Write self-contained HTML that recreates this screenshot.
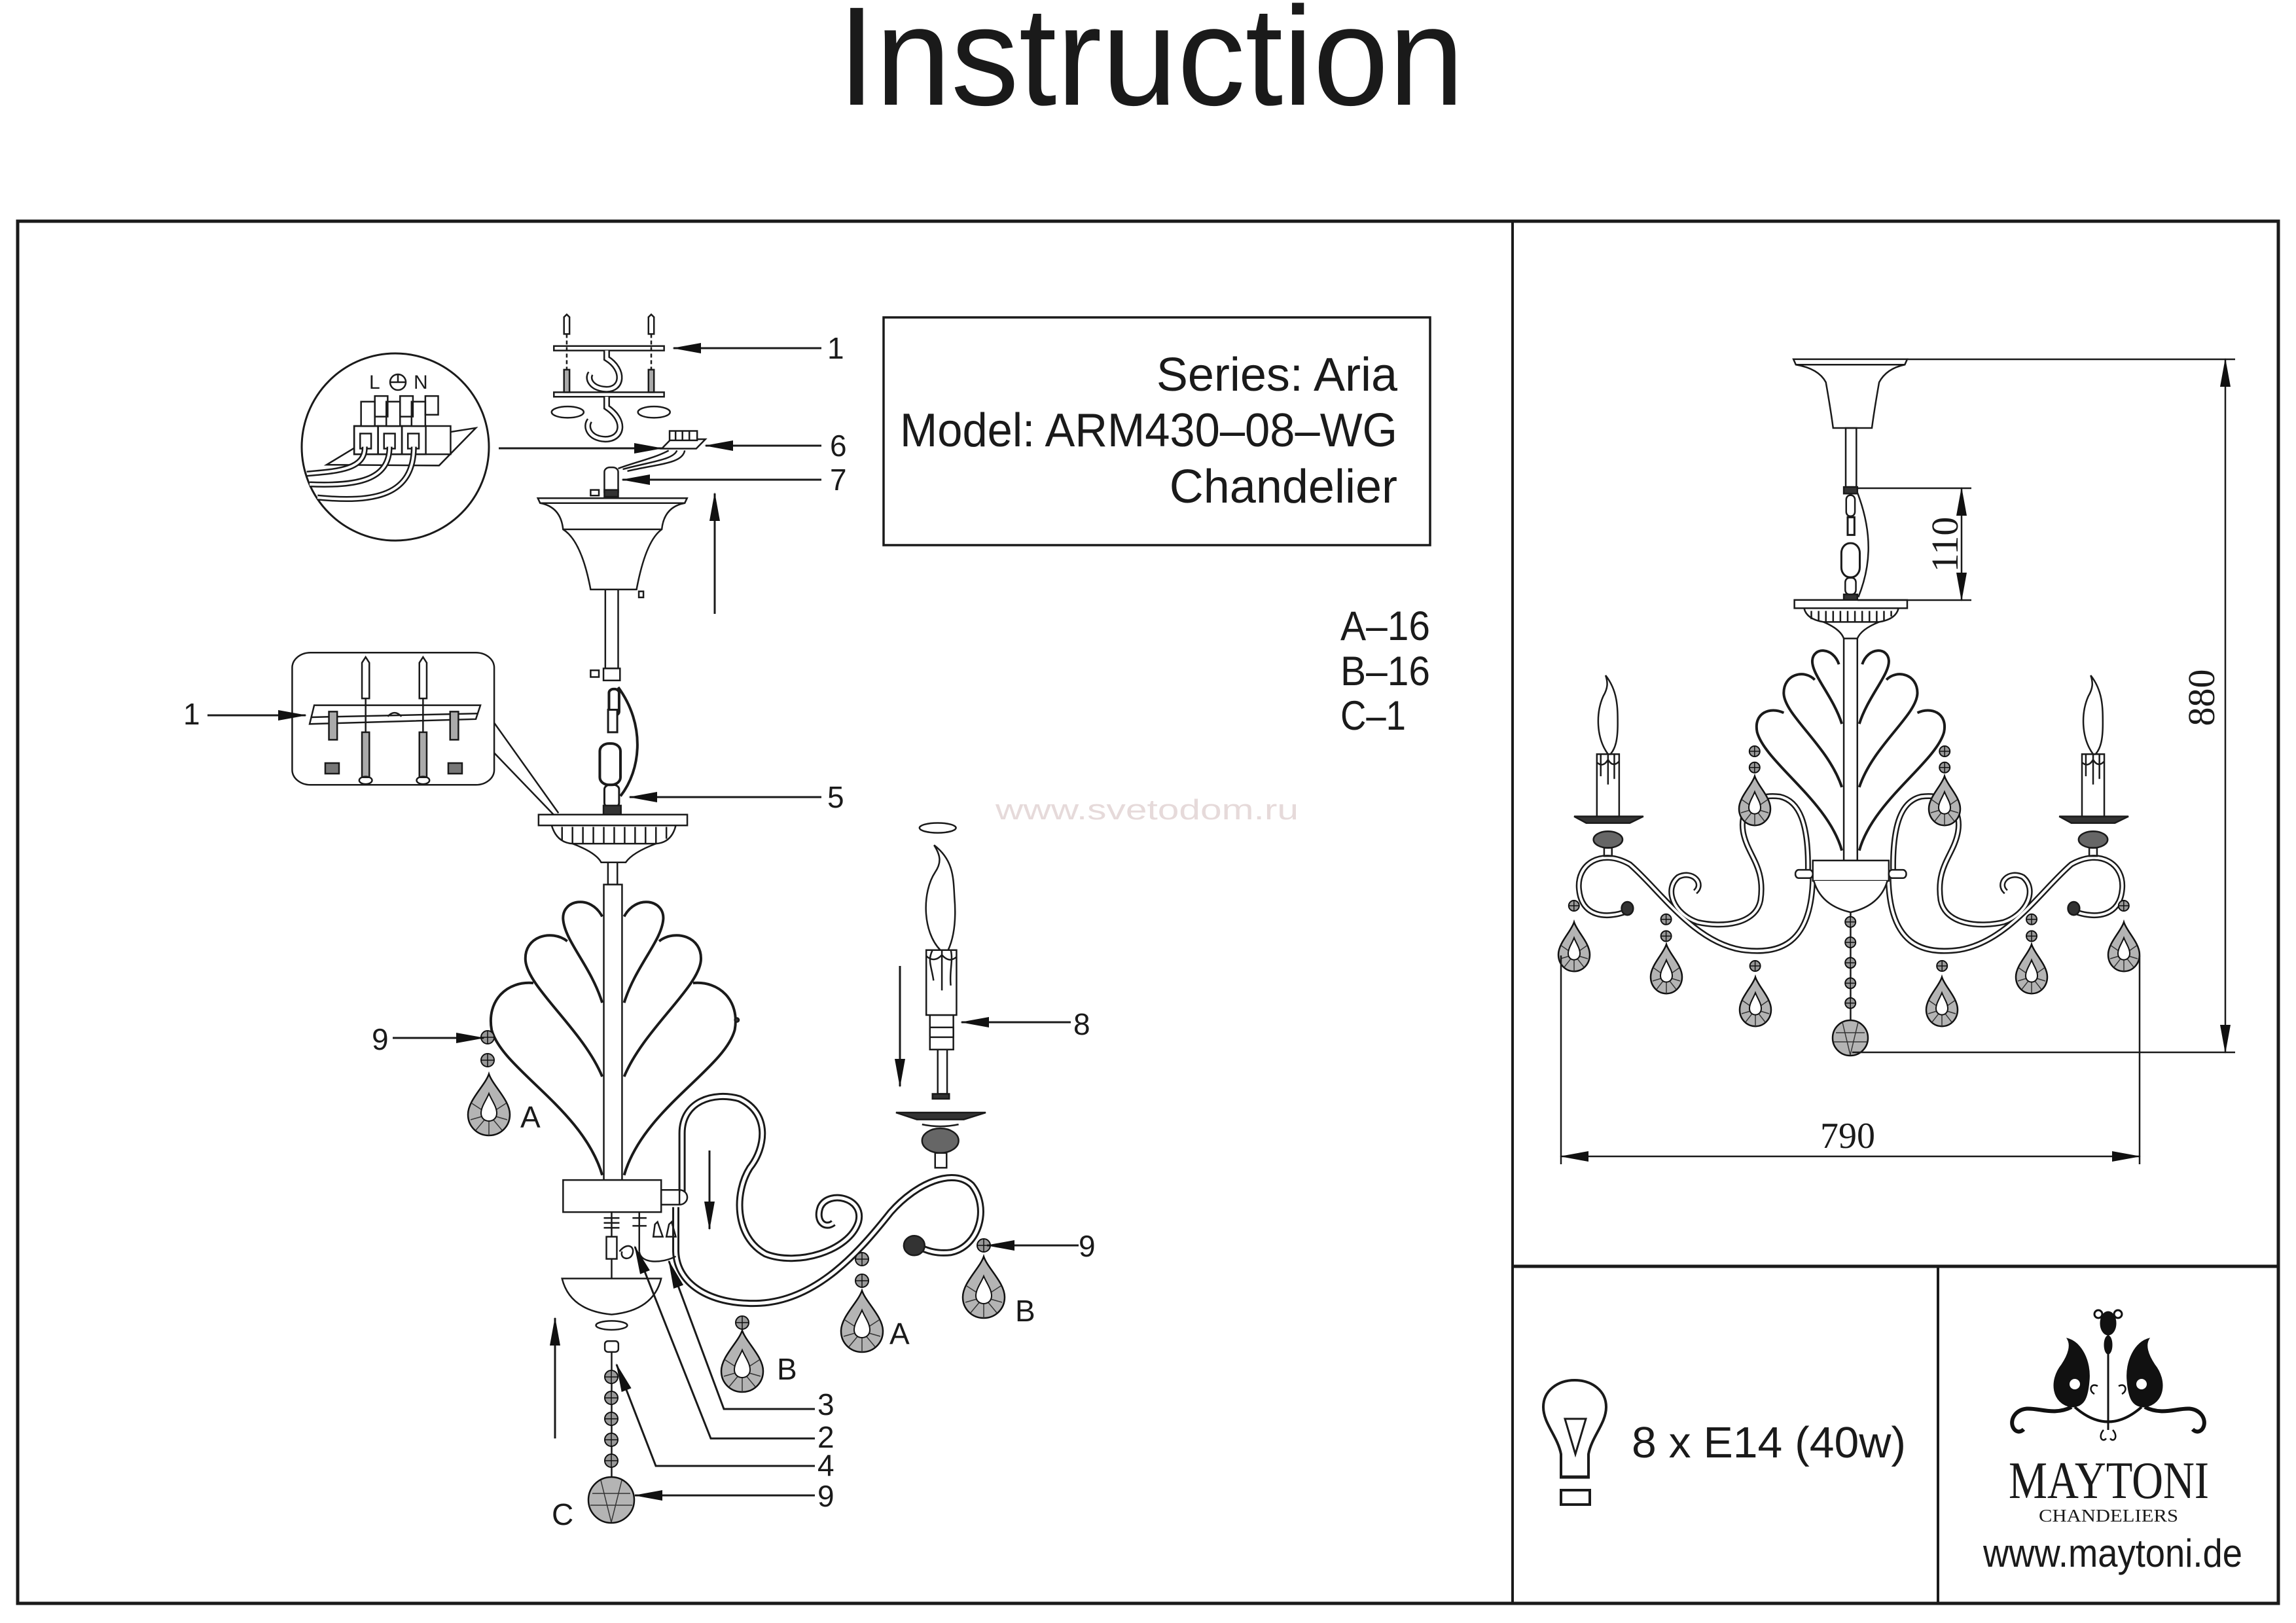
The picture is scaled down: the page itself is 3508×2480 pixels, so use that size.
<!DOCTYPE html>
<html><head><meta charset="utf-8"><style>
html,body{margin:0;padding:0;background:#fff}
svg{display:block}
svg path,svg rect,svg line,svg polyline,svg polygon,svg ellipse,svg circle{vector-effect:non-scaling-stroke}
text{font-family:"Liberation Sans",sans-serif;fill:#1a1a1a}
.serif{font-family:"Liberation Serif",serif}
</style></head><body>
<svg width="3508" height="2480" viewBox="0 0 3508 2480" xmlns="http://www.w3.org/2000/svg">
<defs>
<marker id="ah" markerUnits="userSpaceOnUse" markerWidth="44" markerHeight="20" refX="42" refY="10" orient="auto-start-reverse"><path d="M0,2 L44,10 L0,18 Z" fill="#111"/></marker>
<g id="drop">
<path d="M0,0 C6,18 32,40 32,62 C32,80 18,94 0,94 C-18,94 -32,80 -32,62 C-32,40 -6,18 0,0 Z" fill="#b4b4b4" stroke="#111" stroke-width="2.5"/>
<path d="M0,62 L-28,70 M0,62 L-20,86 M0,62 L0,94 M0,62 L20,86 M0,62 L28,70 M0,62 L-26,45 M0,62 L26,45" stroke="#333" stroke-width="1.5"/>
<path d="M0,30 C4,40 12,50 12,60 C12,68 6,72 0,72 C-6,72 -12,68 -12,60 C-12,50 -4,40 0,30 Z" fill="#fff" stroke="#111" stroke-width="2"/>
</g>
<g id="bead"><circle r="10" fill="#999" stroke="#111" stroke-width="2"/><path d="M-10,0H10M0,-10V10" stroke="#111" stroke-width="1.5"/></g>
</defs>
<rect width="3508" height="2480" fill="#fff"/>

<text x="1280" y="160" font-size="215" textLength="957" lengthAdjust="spacingAndGlyphs">Instruction</text>

<g fill="none" stroke="#1a1a1a">
<rect x="27" y="338" width="3454" height="2112" stroke-width="5"/>
<line x1="2311" y1="338" x2="2311" y2="2450" stroke-width="4"/>
<line x1="2311" y1="1935" x2="3481" y2="1935" stroke-width="5"/>
<line x1="2961" y1="1935" x2="2961" y2="2450" stroke-width="4"/>
<rect x="1350" y="485" width="835" height="348" stroke-width="3.5"/>
</g>
<text x="2135" y="597" font-size="72" text-anchor="end">Series: Aria</text>
<text x="1375" y="682" font-size="72" textLength="760" lengthAdjust="spacingAndGlyphs">Model: ARM430–08–WG</text>
<text x="2135" y="768" font-size="72" text-anchor="end">Chandelier</text>

<text x="2048" y="978" font-size="63" textLength="137" lengthAdjust="spacingAndGlyphs">A–16</text>
<text x="2048" y="1047" font-size="63" textLength="137" lengthAdjust="spacingAndGlyphs">B–16</text>
<text x="2048" y="1115" font-size="63" textLength="100" lengthAdjust="spacingAndGlyphs">C–1</text>

<text x="1521" y="1252" font-size="44" style="fill:#e6dada" textLength="463" lengthAdjust="spacingAndGlyphs">www.svetodom.ru</text>

<g fill="none" stroke="#1a1a1a" stroke-width="4">
<path d="M2385,2257 L2385,2222 C2380,2195 2358,2175 2358,2150 C2358,2125 2380,2109 2406,2109 C2432,2109 2454,2125 2454,2150 C2454,2175 2432,2195 2427,2222 L2427,2257 Z"/>
<line x1="2383" y1="2257" x2="2429" y2="2257" stroke-width="5"/>
<polygon points="2391,2168 2423,2168 2407,2222" stroke-width="3"/>
<rect x="2385" y="2277" width="44" height="22"/>
</g>
<text x="2493" y="2227" font-size="67" textLength="419" lengthAdjust="spacingAndGlyphs">8 x E14 (40w)</text>

<g fill="#111" stroke="#111">
<line x1="3221" y1="2040" x2="3221" y2="2185" stroke-width="3"/>
<ellipse cx="3221" cy="2022" rx="12" ry="18"/>
<ellipse cx="3221" cy="2055" rx="6" ry="14"/>
<circle cx="3206" cy="2008" r="6" fill="none" stroke-width="3"/>
<circle cx="3236" cy="2008" r="6" fill="none" stroke-width="3"/>
<path d="M3165,2150 C3135,2145 3130,2110 3150,2085 C3160,2070 3165,2055 3158,2045 C3180,2050 3195,2080 3192,2110 C3190,2135 3185,2150 3165,2150 Z"/>
<path d="M3277,2150 C3307,2145 3312,2110 3292,2085 C3282,2070 3277,2055 3284,2045 C3262,2050 3247,2080 3250,2110 C3252,2135 3257,2150 3277,2150 Z"/>
<circle cx="3170" cy="2115" r="8" fill="#fff" stroke="none"/>
<circle cx="3272" cy="2115" r="8" fill="#fff" stroke="none"/>
<path d="M3165,2150 C3130,2168 3100,2140 3080,2160 C3066,2175 3080,2196 3092,2184" fill="none" stroke-width="6"/>
<path d="M3277,2150 C3312,2168 3342,2140 3362,2160 C3376,2175 3362,2196 3350,2184" fill="none" stroke-width="6"/>
<path d="M3170,2150 Q3221,2195 3272,2150" fill="none" stroke-width="4"/>
<path d="M3214,2185 C3205,2195 3212,2205 3218,2198 M3228,2185 C3237,2195 3230,2205 3224,2198" fill="none" stroke-width="2.5"/>
<path d="M3200,2130 C3190,2125 3195,2112 3205,2118 M3242,2130 C3252,2125 3247,2112 3237,2118" fill="none" stroke-width="2.5"/>
</g>
<text class="serif" x="3069" y="2289" font-size="80" textLength="306" lengthAdjust="spacingAndGlyphs">MAYTONI</text>
<text class="serif" x="3115" y="2325" font-size="27" textLength="213" lengthAdjust="spacingAndGlyphs">CHANDELIERS</text>
<text x="3030" y="2394" font-size="60" textLength="396" lengthAdjust="spacingAndGlyphs">www.maytoni.de</text>

<!-- RIGHT DRAWING -->
<g transform="translate(2320,500) scale(0.7397,0.8418)" fill="none" stroke="#1a1a1a" stroke-width="2.5">
<path d="M568,58 L803,58 L798,68 Q760,75 745,100 Q735,150 730,183 L650,183 Q645,150 635,100 Q620,75 573,68 Z"/>
<line x1="573" y1="68" x2="798" y2="68"/>
<rect x="676" y="183" width="22" height="107"/>
<rect x="672" y="290" width="28" height="12" fill="#333"/>
<rect x="677" y="305" width="18" height="38" rx="8"/>
<rect x="680" y="345" width="14" height="32" stroke-width="3"/>
<rect x="667" y="392" width="38" height="62" rx="18" stroke-width="3"/>
<rect x="675" y="455" width="22" height="30" rx="8"/>
<rect x="672" y="485" width="28" height="10" fill="#333"/>
<path d="M700,300 C735,380 725,440 702,490"/>
<rect x="570" y="495" width="233" height="15"/>
<path d="M590,510 Q595,530 630,535 L745,535 Q780,530 785,510"/>
<path d="M605,515 V530 M620,515 V534 M635,515 V535 M650,515 V535 M665,515 V535 M680,515 V535 M695,515 V535 M710,515 V535 M725,515 V535 M740,515 V535 M755,515 V532 M770,515 V525"/>
<path d="M630,535 Q665,548 672,565 M745,535 Q708,548 700,565"/>
<rect x="672" y="565" width="28" height="403"/>
<g stroke-width="4">
<path d="M668,720 C650,670 605,630 607,605 C609,580 650,580 662,612"/>
<path d="M668,835 C640,760 550,705 548,665 C547,630 590,620 612,640"/>
<path d="M668,950 C640,860 510,790 493,735 C485,700 520,688 548,700"/>
<path d="M704,720 C722,670 767,630 765,605 C763,580 722,580 710,612"/>
<path d="M704,835 C732,760 822,705 824,665 C825,630 782,620 760,640"/>
<path d="M704,950 C732,860 862,790 879,735 C887,700 852,688 824,700"/>
</g>
<g stroke-width="9"><path id="ra1" d="M608,1000 C605,1120 540,1140 460,1130 C360,1115 290,1020 230,975 C170,945 120,975 125,1020 C130,1070 180,1075 225,1060"/>
<path id="ra2" d="M598,990 C600,900 580,860 540,852 C480,845 455,880 465,920 C475,960 510,980 500,1040 C490,1085 420,1090 370,1080 C320,1065 300,1020 330,998 C360,985 385,1010 365,1025"/>
<path id="ra3" d="M764,1000 C767,1120 832,1140 912,1130 C1012,1115 1082,1020 1142,975 C1202,945 1252,975 1247,1020 C1242,1070 1192,1075 1147,1060"/>
<path id="ra4" d="M774,990 C772,900 792,860 832,852 C892,845 917,880 907,920 C897,960 862,980 872,1040 C882,1085 952,1090 1002,1080 C1052,1065 1072,1020 1042,998 C1012,985 987,1010 1007,1025"/></g>
<g stroke="#fff" stroke-width="4"><use href="#ra1"/><use href="#ra2"/><use href="#ra3"/><use href="#ra4"/></g>
<rect x="608" y="968" width="157" height="37" fill="#fff"/>
<rect x="572" y="985" width="36" height="15" rx="7" fill="#fff"/>
<rect x="765" y="985" width="36" height="15" rx="7" fill="#fff"/>
<path d="M610,1005 Q625,1050 686,1062 Q747,1050 762,1005" fill="#fff"/>
<g id="candleR">
<polygon points="115,888 258,888 230,900 140,900" fill="#333"/>
<ellipse cx="185" cy="930" rx="30" ry="15" fill="#666"/>
<rect x="177" y="945" width="16" height="15"/>
<rect x="162" y="775" width="46" height="113" fill="#fff"/>
<path d="M170,775 V815 M185,775 V830 M198,775 V820 M162,790 Q175,800 185,785 Q195,800 208,788"/>
<path d="M185,775 C160,745 160,700 175,670 C185,655 185,645 180,632 C205,660 205,690 205,720 C205,750 200,765 190,775 Z" fill="#fff"/>
</g>
<use href="#candleR" x="1002"/>
<circle cx="225" cy="1055" r="12" fill="#333"/>
<circle cx="1147" cy="1055" r="12" fill="#333"/>
<line x1="686" y1="1062" x2="686" y2="1260"/>
</g>
<g>
<g transform="translate(2405,1409) scale(0.75,0.8)"><use href="#drop"/></g>
<g transform="translate(2546,1443) scale(0.75,0.8)"><use href="#drop"/></g>
<g transform="translate(2682,1493) scale(0.75,0.8)"><use href="#drop"/></g>
<g transform="translate(2967,1493) scale(0.75,0.8)"><use href="#drop"/></g>
<g transform="translate(3104,1443) scale(0.75,0.8)"><use href="#drop"/></g>
<g transform="translate(3245,1409) scale(0.75,0.8)"><use href="#drop"/></g>
<g transform="translate(2681,1186) scale(0.75,0.8)"><use href="#drop"/></g>
<g transform="translate(2971,1186) scale(0.75,0.8)"><use href="#drop"/></g>
<g transform="scale(0.8)">
<use href="#bead" x="3006" y="1730"/><use href="#bead" x="3182" y="1756"/><use href="#bead" x="3182" y="1788"/>
<use href="#bead" x="3352" y="1845"/><use href="#bead" x="3709" y="1845"/>
<use href="#bead" x="3880" y="1756"/><use href="#bead" x="3880" y="1788"/><use href="#bead" x="4056" y="1730"/>
<use href="#bead" x="3351" y="1435"/><use href="#bead" x="3351" y="1466"/><use href="#bead" x="3714" y="1435"/><use href="#bead" x="3714" y="1466"/>
<use href="#bead" x="3534" y="1761"/><use href="#bead" x="3534" y="1800"/><use href="#bead" x="3534" y="1839"/><use href="#bead" x="3534" y="1878"/><use href="#bead" x="3534" y="1916"/>
</g>
<circle cx="2827" cy="1586" r="27" fill="#b4b4b4" stroke="#111" stroke-width="2.5"/>
<path d="M2805,1578 L2849,1578 M2802,1592 L2852,1592 M2815,1562 L2827,1612 M2839,1562 L2827,1612" stroke="#333" stroke-width="1.5"/>
</g>
<g stroke="#1a1a1a" stroke-width="2.5" fill="none">
<line x1="2914" y1="549" x2="3415" y2="549"/>
<line x1="2830" y1="1608" x2="3415" y2="1608"/>
<line x1="3400" y1="549" x2="3400" y2="1608" marker-start="url(#ah)" marker-end="url(#ah)"/>
<line x1="2838" y1="746" x2="3012" y2="746"/>
<line x1="2838" y1="917" x2="3012" y2="917"/>
<line x1="2997" y1="746" x2="2997" y2="917" marker-start="url(#ah)" marker-end="url(#ah)"/>
<line x1="2385" y1="1460" x2="2385" y2="1779"/>
<line x1="3269" y1="1460" x2="3269" y2="1779"/>
<line x1="2385" y1="1767" x2="3269" y2="1767" marker-start="url(#ah)" marker-end="url(#ah)"/>
</g>
<text class="serif" font-size="58" text-anchor="middle" transform="translate(2991,832) rotate(-90)">110</text>
<text class="serif" font-size="58" text-anchor="middle" transform="translate(3383,1066) rotate(-90)">880</text>
<text class="serif" x="2823" y="1754" font-size="56" text-anchor="middle">790</text>

<!-- LEFT UPPER -->
<circle cx="604" cy="683" r="143" fill="none" stroke="#1a1a1a" stroke-width="3"/>
<g transform="translate(250,430) scale(0.7015,0.5741)" fill="none" stroke="#1a1a1a" stroke-width="2.5">
<polygon points="355,488 420,440 680,390 600,490" fill="#fff"/>
<rect x="415" y="385" width="210" height="75" fill="#fff"/>
<rect x="415" y="385" width="52" height="75"/><rect x="467" y="385" width="52" height="75"/><rect x="519" y="385" width="52" height="75"/>
<rect x="428" y="405" width="24" height="40"/><rect x="480" y="405" width="24" height="40"/><rect x="532" y="405" width="24" height="40"/>
<rect x="430" y="320" width="30" height="65" fill="#fff"/><rect x="485" y="320" width="30" height="65" fill="#fff"/><rect x="540" y="320" width="30" height="65" fill="#fff"/>
<rect x="460" y="305" width="28" height="55"/><rect x="515" y="305" width="28" height="55"/><rect x="570" y="305" width="28" height="50"/>
<g stroke-width="9"><path id="w1" d="M438,440 C440,500 380,505 312,512"/><path id="w2" d="M492,440 C492,530 420,545 318,540"/><path id="w3" d="M545,440 C545,570 460,590 335,575"/></g>
<g stroke="#fff" stroke-width="4"><use href="#w1"/><use href="#w2"/><use href="#w3"/></g>
<rect x="850" y="172" width="240" height="12" fill="#fff"/>
<rect x="850" y="295" width="240" height="12" fill="#fff"/>
<path d="M872,95 L878,88 L884,95 L884,140 L872,140 Z M1056,95 L1062,88 L1068,95 L1068,140 L1056,140 Z"/>
<path d="M878,140 V295 M1062,140 V295" stroke-dasharray="6,4"/>
<rect x="872" y="235" width="12" height="60" fill="#aaa"/><rect x="1056" y="235" width="12" height="60" fill="#aaa"/>
<ellipse cx="880" cy="348" rx="35" ry="15"/><ellipse cx="1068" cy="348" rx="35" ry="15"/>
<g stroke-width="10"><path id="hk1" d="M965,184 L965,205 C1005,235 1000,290 962,287 C930,284 922,258 930,245"/><path id="hk2" d="M965,307 L965,335 C1008,370 1000,420 962,420 C925,418 918,385 928,370"/></g>
<g stroke="#fff" stroke-width="5"><use href="#hk1"/><use href="#hk2"/></g>
<polygon points="1085,445 1105,420 1180,420 1160,445" fill="#fff"/>
<rect x="1102" y="398" width="60" height="25" fill="#fff"/>
<path d="M1115,398 V423 M1130,398 V423 M1145,398 V423"/>
<path d="M1100,450 C1070,470 1030,480 990,498 M1118,450 C1110,475 1060,480 1000,500 M1135,450 C1130,485 1080,485 1010,505"/>
<rect x="960" y="495" width="30" height="78" rx="12" fill="#fff"/>
<rect x="960" y="555" width="30" height="18" fill="#333"/>
<rect x="930" y="555" width="18" height="15"/>
<path d="M815,577 L1140,577 L1135,590 Q1090,600 1085,660 Q1050,690 1030,820 L930,820 Q910,690 870,660 Q865,600 820,590 Z" fill="#fff"/>
<line x1="820" y1="590" x2="1135" y2="590"/>
<line x1="870" y1="660" x2="1085" y2="660"/>
<rect x="962" y="820" width="28" height="210"/>
<rect x="1035" y="825" width="10" height="16"/>
<rect x="958" y="1030" width="36" height="32" fill="#fff"/>
<rect x="930" y="1035" width="18" height="18"/>
<rect x="970" y="1085" width="22" height="70" rx="10" stroke-width="4"/>
<rect x="968" y="1140" width="20" height="60" fill="#fff" stroke-width="3"/>
<rect x="950" y="1230" width="45" height="110" rx="20" stroke-width="4"/>
<rect x="960" y="1340" width="32" height="60" rx="12" stroke-width="3"/>
<rect x="958" y="1395" width="38" height="25" fill="#333"/>
<path d="M990,1080 C1050,1180 1040,1300 995,1370" stroke-width="4"/>
<rect x="280" y="988" width="440" height="352" rx="40" fill="#fff"/>
<polygon points="328,1128 690,1128 680,1165 318,1178" fill="#fff"/>
<line x1="320" y1="1160" x2="685" y2="1150"/>
<path d="M432,1015 L440,1000 L448,1015 L448,1110 L432,1110 Z M557,1015 L565,1000 L573,1015 L573,1110 L557,1110 Z"/>
<path d="M440,1110 V1200 M565,1110 V1200"/>
<rect x="432" y="1200" width="16" height="120" fill="#aaa"/><rect x="557" y="1200" width="16" height="120" fill="#aaa"/>
<ellipse cx="440" cy="1328" rx="14" ry="10"/><ellipse cx="565" cy="1328" rx="14" ry="10"/>
<rect x="360" y="1145" width="18" height="75" fill="#aaa"/><rect x="624" y="1145" width="18" height="75" fill="#aaa"/>
<rect x="352" y="1282" width="30" height="28" fill="#777"/><rect x="620" y="1282" width="30" height="28" fill="#777"/>
<path d="M488,1158 Q503,1138 518,1158"/>
<path d="M720,1175 L860,1415 M720,1255 L850,1420"/>
</g>
<text x="564" y="594" font-size="30">L</text>
<circle cx="608" cy="584" r="12" fill="none" stroke="#1a1a1a" stroke-width="2.5"/>
<path d="M596,584 H620 M608,572 V584" stroke="#1a1a1a" stroke-width="2.5"/>
<text x="632" y="594" font-size="30">N</text>

<!-- LEFT LOWER -->
<g transform="translate(500,1250) scale(0.7972,0.7526)" fill="none" stroke="#1a1a1a" stroke-width="2.5">
<rect x="405" y="-7" width="285" height="22" fill="#fff"/>
<path d="M430,15 Q440,50 470,52 L630,52 Q660,50 668,15"/>
<path d="M450,18 V45 M470,18 V52 M490,18 V52 M510,18 V52 M530,18 V52 M550,18 V52 M570,18 V52 M590,18 V52 M610,18 V52 M630,18 V52 M650,18 V42"/>
<path d="M470,52 Q515,70 525,90 L572,90 Q585,70 630,52"/>
<rect x="538" y="90" width="18" height="45"/>
<rect x="530" y="135" width="35" height="600" fill="#fff"/>
<g stroke-width="4">
<path d="M527,375 C505,300 455,250 452,205 C450,165 505,155 527,200"/>
<path d="M527,525 C490,430 385,345 380,290 C376,240 430,225 460,250"/>
<path d="M527,725 C490,590 335,510 315,430 C305,370 345,330 395,335"/>
<path d="M569,375 C591,300 641,250 644,205 C646,165 591,155 569,200"/>
<path d="M569,525 C606,430 711,345 716,290 C720,240 666,225 636,250"/>
<path d="M569,725 C606,590 761,510 781,430 C791,370 751,330 701,335"/>
</g>
<g stroke-width="11"><path id="la1" d="M668,790 L668,880 C670,950 740,990 830,985 C940,978 1020,880 1080,800 C1130,740 1200,710 1235,745 C1270,790 1250,870 1195,882 C1170,885 1150,880 1130,868"/>
<path id="la2" d="M680,760 L680,640 C680,575 740,555 790,570 C850,600 840,670 810,710 C780,760 780,850 840,885 C900,910 1000,880 1018,820 C1030,770 960,755 945,790 C935,820 955,835 970,822"/></g>
<g stroke="#fff" stroke-width="5"><use href="#la1"/><use href="#la2"/></g>
<rect x="452" y="735" width="188" height="65" fill="#fff"/>
<rect x="640" y="755" width="35" height="30" fill="#fff"/>
<path d="M675,755 A15,15 0 0 1 675,785"/>
<path d="M545,800 V935 M598,800 V880"/>
<path d="M530,812 H560 M530,822 H560 M530,832 H560 M585,812 H612 M585,828 H612"/>
<rect x="535" y="850" width="20" height="45" fill="#fff"/>
<path d="M560,880 C575,860 590,870 585,885 C580,900 560,895 565,880"/>
<path d="M628,825 L633,820 L643,850 L625,850 Z M655,825 L660,820 L668,850 L650,850 Z"/>
<path d="M598,880 C600,905 640,905 668,890"/>
<path d="M450,935 L640,935 Q625,1000 545,1008 Q465,1000 450,935 Z" fill="#fff"/>
<ellipse cx="545" cy="1030" rx="30" ry="9"/>
<ellipse cx="1170" cy="20" rx="35" ry="10"/>
<rect x="532" y="1062" width="26" height="22" rx="6"/>
<line x1="545" y1="1084" x2="545" y2="1345"/>
<polygon points="1090,598 1262,598 1220,612 1130,612" fill="#333"/>
<ellipse cx="1175" cy="655" rx="35" ry="25" fill="#666"/>
<path d="M1140,622 Q1175,630 1210,622" />
<rect x="1165" y="680" width="22" height="30"/>
<rect x="1170" y="470" width="18" height="90"/>
<rect x="1160" y="560" width="32" height="10" fill="#333"/>
<rect x="1155" y="400" width="45" height="70" fill="#fff"/>
<rect x="1155" y="425" width="45" height="20" fill="#fff"/>
<rect x="1148" y="268" width="58" height="132" fill="#fff"/>
<path d="M1160,268 C1150,290 1158,300 1162,330 M1178,268 V350 M1195,268 C1200,290 1192,310 1195,340 M1148,280 Q1163,295 1178,278 Q1192,295 1206,282"/>
<path d="M1175,268 C1140,230 1140,150 1165,110 C1178,90 1175,75 1163,55 C1200,85 1200,120 1202,160 C1206,210 1200,245 1190,268 Z" fill="#fff"/>
<circle cx="1125" cy="868" r="20" fill="#333"/>
<circle cx="785" cy="410" r="4" fill="#333"/>
</g>
<g>
<use href="#drop" x="747" y="1641"/>
<use href="#drop" x="1134" y="2033"/>
<use href="#drop" x="1317" y="1972"/>
<use href="#drop" x="1503" y="1920"/>
<use href="#bead" x="745" y="1585"/><use href="#bead" x="745" y="1620"/>
<use href="#bead" x="1134" y="2021"/>
<use href="#bead" x="1317" y="1924"/><use href="#bead" x="1317" y="1957"/>
<use href="#bead" x="1503" y="1903"/>
<use href="#bead" x="934" y="2104"/><use href="#bead" x="934" y="2136"/><use href="#bead" x="934" y="2168"/><use href="#bead" x="934" y="2200"/><use href="#bead" x="934" y="2232"/>
<circle cx="934" cy="2292" r="35" fill="#b4b4b4" stroke="#111" stroke-width="2.5"/>
<path d="M905,2282 L963,2282 M902,2300 L966,2300 M918,2262 L934,2326 M950,2262 L934,2326" stroke="#333" stroke-width="1.5"/>
</g>

<g stroke="#1a1a1a" stroke-width="3" fill="none">
<line x1="1255" y1="532" x2="1029" y2="532" marker-end="url(#ah)"/>
<line x1="1255" y1="681" x2="1078" y2="681" marker-end="url(#ah)"/>
<line x1="762" y1="685" x2="1011" y2="685" marker-end="url(#ah)"/>
<line x1="1255" y1="733" x2="951" y2="733" marker-end="url(#ah)"/>
<line x1="1092" y1="938" x2="1092" y2="754" marker-end="url(#ah)"/>
<line x1="1255" y1="1218" x2="962" y2="1218" marker-end="url(#ah)"/>
<line x1="317" y1="1093" x2="467" y2="1093" marker-end="url(#ah)"/>
<line x1="600" y1="1586" x2="739" y2="1586" marker-end="url(#ah)"/>
<line x1="1636" y1="1562" x2="1469" y2="1562" marker-end="url(#ah)"/>
<line x1="1375" y1="1476" x2="1375" y2="1660" marker-end="url(#ah)"/>
<line x1="1084" y1="1758" x2="1084" y2="1878" marker-end="url(#ah)"/>
<line x1="1648" y1="1903" x2="1508" y2="1903" marker-end="url(#ah)"/>
<polyline points="1245,2153 1106,2153 1022,1927" marker-end="url(#ah)"/>
<polyline points="1245,2198 1086,2198 970,1905" marker-end="url(#ah)"/>
<polyline points="1245,2240 1002,2240 942,2085" marker-end="url(#ah)"/>
<line x1="1245" y1="2285" x2="970" y2="2285" marker-end="url(#ah)"/>
<line x1="848" y1="2198" x2="848" y2="2014" marker-end="url(#ah)"/>
</g>
<g font-size="46">
<text x="1264" y="548">1</text>
<text x="1268" y="697">6</text>
<text x="1268" y="749">7</text>
<text x="1264" y="1234">5</text>
<text x="280" y="1107">1</text>
<text x="568" y="1604">9</text>
<text x="1640" y="1581">8</text>
<text x="1648" y="1920">9</text>
<text x="1249" y="2162">3</text>
<text x="1249" y="2212">2</text>
<text x="1249" y="2255">4</text>
<text x="1249" y="2302">9</text>
<text x="795" y="1723">A</text>
<text x="1359" y="2054">A</text>
<text x="1187" y="2108">B</text>
<text x="1551" y="2019">B</text>
<text x="843" y="2330">C</text>
</g>
</svg>
</body></html>
